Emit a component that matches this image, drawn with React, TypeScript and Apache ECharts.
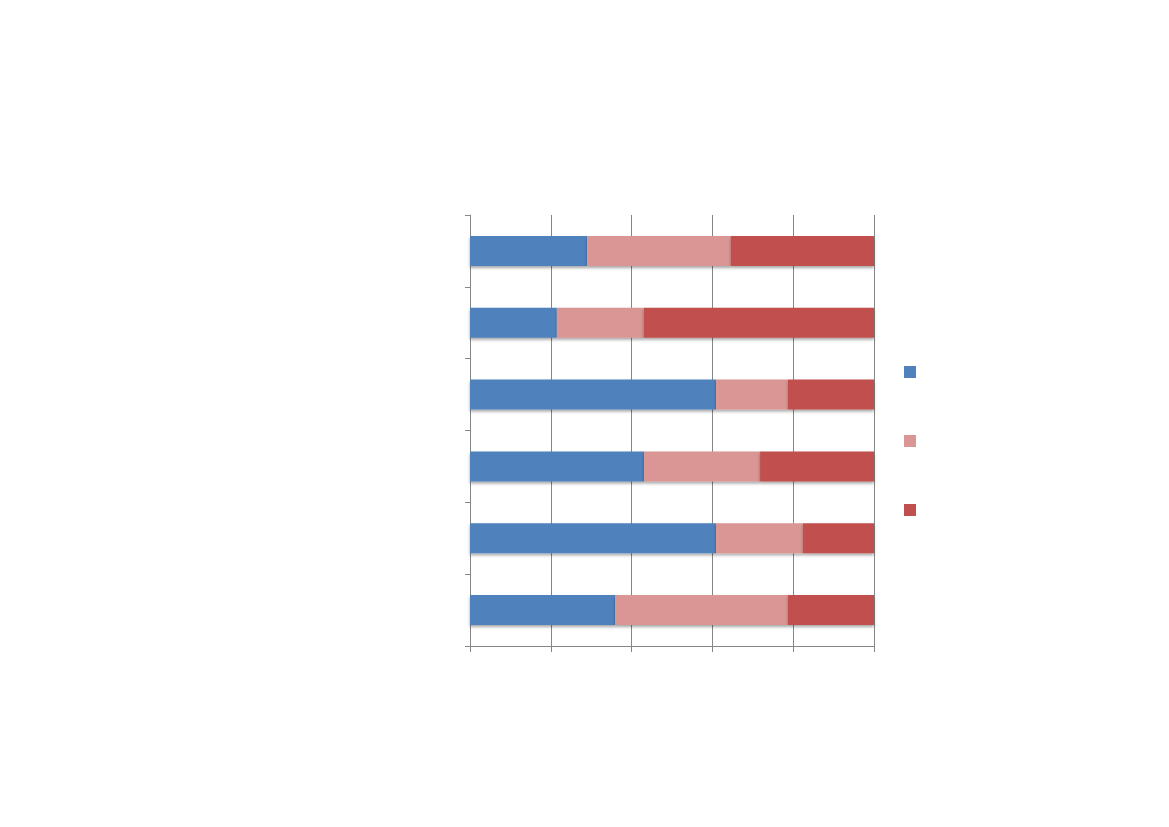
import React, { useEffect, useRef } from "react";
import * as echarts from "echarts";

// Categories listed bottom-to-top (no visible labels in the reference)
const categories = ["1", "2", "3", "4", "5", "6"];
const seriesNames = ["Series 1", "Series 2", "Series 3"];
const blueValues = [35.9, 60.9, 43.1, 60.9, 21.5, 29.0];
const pinkValues = [42.8, 21.5, 28.7, 17.8, 21.5, 35.6];
const redValues = [21.3, 17.6, 28.2, 21.3, 57.0, 35.4];
const xTicks = [0, 20, 40, 60, 80, 100];

const colors = ["#4F81BD", "#D99694", "#C0504D"];

export default function App() {
  const ref = useRef<HTMLDivElement>(null);
  useEffect(() => {
    if (!ref.current) return;
    const chart = echarts.init(ref.current, null, { renderer: "svg" });
    const values = [blueValues, pinkValues, redValues];
    chart.setOption({
      animation: false,
      backgroundColor: "#ffffff",
      legend: {
        show: true,
        orient: "vertical",
        left: 899,
        top: 361,
        icon: "rect",
        itemWidth: 12,
        itemHeight: 12,
        itemGap: 57,
        formatter: () => "",
        data: seriesNames,
        selectedMode: false,
      },
      grid: { left: 470, top: 215, width: 404, height: 431, containLabel: false },
      xAxis: {
        type: "value",
        min: xTicks[0],
        max: xTicks[xTicks.length - 1],
        interval: 20,
        axisLine: { show: true, lineStyle: { color: "#868686", width: 1 } },
        axisTick: { show: true, length: 6, lineStyle: { color: "#868686" } },
        axisLabel: { show: false },
        splitLine: { show: true, lineStyle: { color: "#868686", width: 1 } },
      },
      yAxis: {
        type: "category",
        data: categories,
        boundaryGap: true,
        axisLine: { show: true, lineStyle: { color: "#868686", width: 1 } },
        axisTick: { show: true, length: 5, lineStyle: { color: "#868686" } },
        axisLabel: { show: false },
        splitLine: { show: false },
      },
      series: seriesNames.map((name, i) => ({
        name,
        type: "bar",
        stack: "total",
        barWidth: 30,
        data: values[i],
        itemStyle: {
          color: colors[i],
          shadowColor: "rgba(0,0,0,0.35)",
          shadowBlur: 3,
          shadowOffsetY: 2,
        },
      })),
    });
    return () => chart.dispose();
  }, []);
  return (
    <div
      ref={ref}
      style={{ position: "absolute", left: 0, top: 0, width: 1169, height: 827 }}
    />
  );
}
